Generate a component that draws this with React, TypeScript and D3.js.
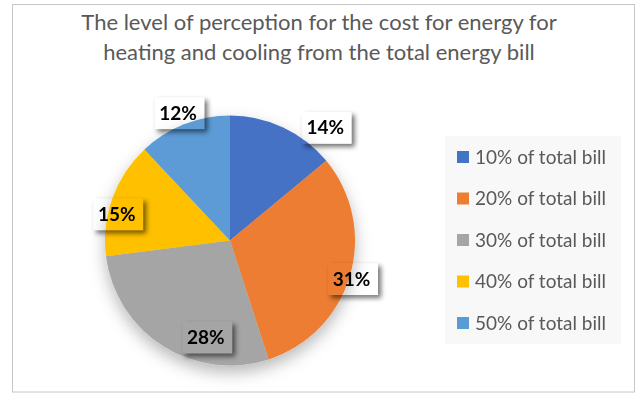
import React from "react";
import * as d3 from "d3";

// Share of respondents per perceived heating/cooling cost band
const categories = [
  "10% of total bill",
  "20% of total bill",
  "30% of total bill",
  "40% of total bill",
  "50% of total bill",
];
const shares = [14, 31, 28, 15, 12];
const sliceColors = ["#4472C4", "#ED7D31", "#A5A5A5", "#FFC000", "#5B9BD5"];
const titleLines = [
  "The level of perception for the cost for energy for",
  "heating and cooling from the total energy bill",
];

// Best-fit style nudges for the data labels: radius factor and angle shift (deg)
const labelNudge = [
  { r: 1.18, da: 15 },
  { r: 1.02, da: 1.4 },
  { r: 0.8, da: -18.4 },
  { r: 0.93, da: -6.8 },
  { r: 1.1, da: -0.6 },
];

const W = 637;
const H = 394;
const cx = 230;
const cy = 240.5;
const R = 125;
const FONT = "Lato, 'Open Sans', sans-serif";

export default function App() {
  const pie = d3
    .pie<number>()
    .sort(null)
    .value((d) => d)
    .startAngle(0)
    .endAngle(2 * Math.PI);
  const arcs = pie(shares);
  const arc = d3.arc<d3.PieArcDatum<number>>().innerRadius(0).outerRadius(R);

  const legendY = d3
    .scalePoint<string>()
    .domain(categories)
    .range([157, 323]);

  const boxW = 50;
  const boxH = 32;

  const labels = arcs.map((a, i) => {
    const mid = (a.startAngle + a.endAngle) / 2 + (labelNudge[i].da * Math.PI) / 180;
    const rr = labelNudge[i].r * R;
    return {
      x: cx + rr * Math.sin(mid),
      y: cy - rr * Math.cos(mid),
      text: `${a.data}%`,
    };
  });

  return (
    <svg
      width={W}
      height={H}
      viewBox={`0 0 ${W} ${H}`}
      style={{ position: "absolute", left: 0, top: 0, background: "#fff" }}
    >
      <defs>
        <filter id="pieShadow" x="-30%" y="-30%" width="160%" height="170%">
          <feDropShadow dx="0" dy="7" stdDeviation="8" floodColor="#000" floodOpacity="0.28" />
        </filter>
        <filter id="boxShadow" x="-40%" y="-40%" width="180%" height="180%">
          <feGaussianBlur stdDeviation="2.5" />
        </filter>
        <mask id="labelMask" maskUnits="userSpaceOnUse" x="0" y="0" width={W} height={H}>
          <rect x="0" y="0" width={W} height={H} fill="#fff" />
          {labels.map((l, i) => (
            <rect
              key={i}
              x={l.x - boxW / 2 + 1.5}
              y={l.y - boxH / 2}
              width={boxW}
              height={boxH}
              fill="#000"
            />
          ))}
        </mask>
      </defs>

      <rect x={12.5} y={4.5} width={622} height={387.5} fill="#fff" stroke="#c6c6c6" strokeWidth={1} />

      {titleLines.map((t, i) => (
        <text
          key={i}
          x={319}
          y={30 + i * 30}
          textAnchor="middle"
          fontFamily={FONT}
          fontSize={22}
          fill="#595959"
        >
          {t}
        </text>
      ))}

      <g filter="url(#pieShadow)">
        {arcs.map((a, i) => (
          <path key={i} d={arc(a) || ""} transform={`translate(${cx},${cy})`} fill={sliceColors[i]} />
        ))}
      </g>

      <g mask="url(#labelMask)">
        {labels.map((l, i) => (
          <rect
            key={i}
            x={l.x - boxW / 2 + 1.5 + 3}
            y={l.y - boxH / 2 + 3}
            width={boxW}
            height={boxH}
            fill="#000"
            opacity={0.55}
            filter="url(#boxShadow)"
          />
        ))}
      </g>

      {labels.map((l, i) => (
        <text
          key={i}
          x={l.x}
          y={l.y}
          dy="0.35em"
          textAnchor="middle"
          fontFamily={FONT}
          fontWeight={700}
          fontSize={19}
          fill="#000"
        >
          {l.text}
        </text>
      ))}

      <rect x={445} y={136} width={176} height={208} fill="#f8f8f8" />
      {categories.map((c, i) => (
        <g key={c} transform={`translate(457,${legendY(c)})`}>
          <rect x={0} y={-6} width={12} height={12} fill={sliceColors[i]} />
          <text x={18} y={0} dy="0.36em" fontFamily={FONT} fontSize={19} fill="#595959">
            {c}
          </text>
        </g>
      ))}
    </svg>
  );
}
